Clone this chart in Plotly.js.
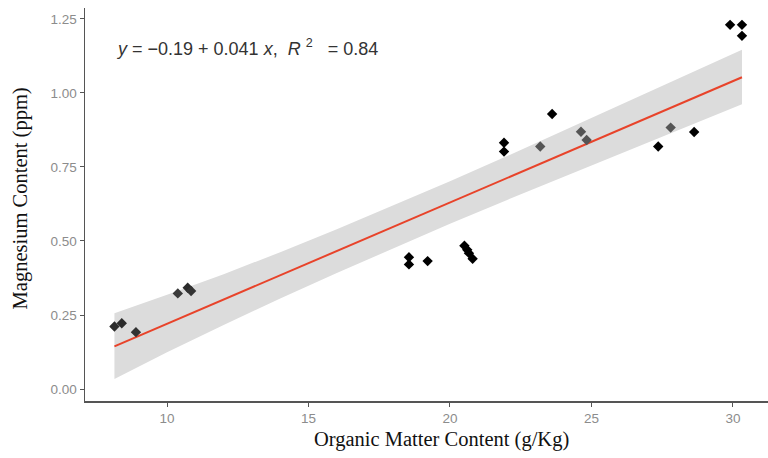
<!DOCTYPE html>
<html>
<head>
<meta charset="utf-8">
<script src="https://cdn.plot.ly/plotly-3.0.1.min.js"></script>
<style>html,body{margin:0;padding:0;background:#fff;}#chart{width:768px;height:458px;}</style>
</head>
<body>
<div id="chart"></div>
<script>
// Observed points: organic matter (g/Kg) vs magnesium (ppm)
const omX = [8.14, 8.40, 8.90, 10.38, 10.73, 10.85, 18.55, 18.55, 19.21, 20.51, 20.61, 20.67, 20.80,
             21.91, 21.91, 23.19, 23.61, 24.63, 24.83, 27.36, 27.80, 28.63, 29.90, 30.32, 30.32];
const mgY = [0.211, 0.222, 0.192, 0.323, 0.342, 0.331, 0.445, 0.421, 0.432, 0.484, 0.470, 0.459, 0.440,
             0.832, 0.802, 0.819, 0.929, 0.869, 0.841, 0.819, 0.883, 0.868, 1.230, 1.230, 1.193];
const ptShade = ["#2b2b2b","#2b2b2b","#333333","#3a3a3a","#2b2b2b","#333333","#000000","#000000","#000000","#000000","#000000","#000000","#000000",
                 "#000000","#000000","#555555","#000000","#555555","#555555","#000000","#555555","#000000","#000000","#000000","#000000"];

// Fitted line and confidence band
const fitX  = [8.14, 10, 12, 14, 16, 18, 20, 22, 24, 26, 28, 30.32];
const fitY  = [0.144, 0.220, 0.302, 0.384, 0.466, 0.548, 0.630, 0.712, 0.794, 0.876, 0.958, 1.053];
const bandHi = [0.256, 0.318, 0.388, 0.462, 0.540, 0.620, 0.702, 0.786, 0.872, 0.958, 1.046, 1.146];
const bandLo = [0.034, 0.124, 0.216, 0.306, 0.392, 0.476, 0.558, 0.638, 0.716, 0.794, 0.870, 0.962];

const xTicks = [10, 15, 20, 25, 30];
const yTicks = [0.00, 0.25, 0.50, 0.75, 1.00, 1.25];

const equationText = "<i>y</i> = \u22120.19 + 0.041 <i>x</i>,  <i>R</i> <sup>2</sup>   = 0.84";
const xTitle = "Organic Matter Content (g/Kg)";
const yTitle = "Magnesium Content (ppm)";

const traces = [
  {x: fitX, y: bandLo, mode: "lines", line: {width: 0, color: "rgba(0,0,0,0)"}, hoverinfo: "skip", showlegend: false},
  {x: fitX, y: bandHi, mode: "lines", line: {width: 0, color: "rgba(0,0,0,0)"}, fill: "tonexty", fillcolor: "#dcdcdc", hoverinfo: "skip", showlegend: false},
  {x: fitX, y: fitY, mode: "lines", line: {color: "#e8432a", width: 2}, showlegend: false},
  {x: omX, y: mgY, mode: "markers", marker: {symbol: "diamond", size: 8, color: ptShade, line: {width: 0}}, showlegend: false}
];

const axisCommon = {
  showgrid: false, zeroline: false, showline: true, linecolor: "#555555", linewidth: 1.5,
  ticks: "outside", ticklen: 4, tickwidth: 1, tickcolor: "#555555",
  tickfont: {family: "Liberation Sans, Arial, sans-serif", size: 13.5, color: "#8c8c8c"}
};

const layout = {
  width: 768, height: 458,
  margin: {l: 85, r: 0, t: 8, b: 57},
  paper_bgcolor: "#ffffff", plot_bgcolor: "#ffffff",
  showlegend: false,
  xaxis: Object.assign({}, axisCommon, {range: [7.1, 31.24], tickvals: xTicks, ticktext: xTicks.map(String)}),
  yaxis: Object.assign({}, axisCommon, {range: [-0.0405, 1.287], tickvals: yTicks, ticktext: yTicks.map(v => v.toFixed(2))}),
  annotations: [
    {text: equationText, xref: "paper", yref: "paper", x: 0.043, y: 0.9, xanchor: "left", yanchor: "middle", showarrow: false,
     font: {family: "Liberation Sans, Arial, sans-serif", size: 18, color: "#333333"}},
    {text: xTitle, xref: "paper", yref: "paper", x: 0.522, y: -0.099, xanchor: "center", yanchor: "middle", showarrow: false,
     font: {family: "Liberation Serif, Times New Roman, serif", size: 20.5, color: "#111111"}},
    {text: yTitle, xref: "paper", yref: "paper", x: -0.094, y: 0.515, xanchor: "center", yanchor: "middle", textangle: -90, showarrow: false,
     font: {family: "Liberation Serif, Times New Roman, serif", size: 20.5, color: "#111111"}}
  ]
};

Plotly.newPlot("chart", traces, layout, {displayModeBar: false, staticPlot: true});
</script>
</body>
</html>
